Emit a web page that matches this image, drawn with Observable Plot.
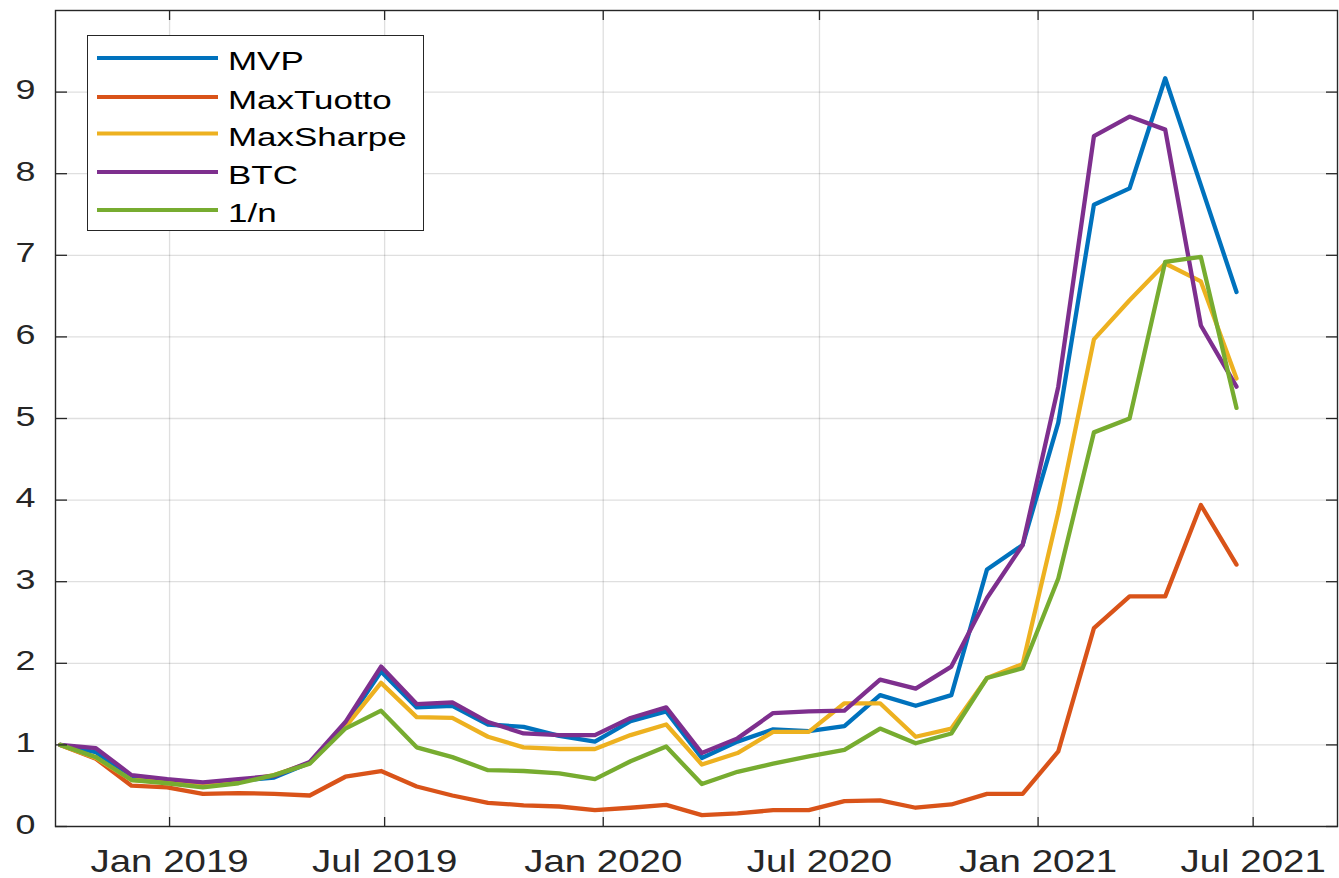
<!DOCTYPE html>
<html>
<head>
<meta charset="utf-8">
<script src="https://cdn.jsdelivr.net/npm/d3@7"></script>
<script src="https://cdn.jsdelivr.net/npm/@observablehq/plot@0.6"></script>
<style>
  body { margin: 0; background: #fff; }
  #wrap { position: relative; width: 1339px; height: 878px; overflow: hidden; background: #fff; }
  #legend { position: absolute; left: 87px; top: 35px; width: 337px; height: 196px; box-sizing: border-box;
            border: 1.4px solid #262626; background: #fff; }
</style>
</head>
<body>
<div id="wrap"><div id="legend"></div></div>
<script>
// ---- data ----
const dates = [
  "2018-10-01","2018-10-31","2018-11-30","2018-12-30","2019-01-29","2019-02-28","2019-03-30","2019-04-29",
  "2019-05-29","2019-06-28","2019-07-28","2019-08-27","2019-09-26","2019-10-26","2019-11-25","2019-12-25",
  "2020-01-24","2020-02-23","2020-03-24","2020-04-23","2020-05-23","2020-06-22","2020-07-22","2020-08-21",
  "2020-09-20","2020-10-20","2020-11-19","2020-12-19","2021-01-18","2021-02-17","2021-03-19","2021-04-18",
  "2021-05-18","2021-06-17"
];
const seriesNames = ["MVP", "MaxTuotto", "MaxSharpe", "BTC", "1/n"];
const seriesColors = ["#0072BD", "#D95319", "#EDB120", "#7E2F8E", "#77AC30"];

const mvp = [1.00,0.91,0.61,0.57,0.53,0.56,0.60,0.78,1.25,1.90,1.46,1.48,1.25,1.22,1.11,1.04,
             1.29,1.41,0.84,1.04,1.19,1.17,1.23,1.61,1.48,1.61,3.15,3.45,4.95,7.62,7.82,9.17,7.86,6.55];
const maxTuotto = [1.00,0.83,0.50,0.48,0.40,0.41,0.40,0.38,0.61,0.68,0.49,0.38,0.29,0.26,0.245,0.20,
             0.23,0.265,0.14,0.16,0.20,0.20,0.31,0.32,0.23,0.27,0.40,0.40,0.92,2.43,2.82,2.82,3.94,3.21];
const maxSharpe = [1.00,0.84,0.57,0.55,0.52,0.55,0.63,0.78,1.22,1.76,1.34,1.33,1.10,0.97,0.95,0.95,
             1.12,1.25,0.76,0.90,1.16,1.16,1.51,1.51,1.10,1.20,1.82,1.99,3.85,5.97,6.45,6.90,6.68,5.49];
const btc = [1.00,0.96,0.63,0.58,0.54,0.58,0.62,0.79,1.28,1.96,1.50,1.52,1.28,1.14,1.12,1.12,
             1.33,1.46,0.90,1.08,1.39,1.41,1.42,1.80,1.69,1.96,2.80,3.45,5.39,8.46,8.70,8.54,6.14,5.39];
const oneOverN = [1.00,0.85,0.57,0.53,0.48,0.53,0.63,0.77,1.20,1.42,0.97,0.85,0.69,0.68,0.65,0.58,
             0.80,0.98,0.52,0.67,0.77,0.86,0.94,1.20,1.02,1.14,1.82,1.94,3.04,4.83,5.00,6.92,6.98,5.13];

const yTicks = [0, 1, 2, 3, 4, 5, 6, 7, 8, 9];
const xTickDates = ["2019-01-01", "2019-07-01", "2020-01-01", "2020-07-01", "2021-01-01", "2021-07-01"];
const xTickLabels = ["Jan 2019", "Jul 2019", "Jan 2020", "Jul 2020", "Jan 2021", "Jul 2021"];
const xDomain = ["2018-09-27", "2021-09-10"];

// ---- build ----
const parse = d3.utcParse("%Y-%m-%d");
const allSeries = [mvp, maxTuotto, maxSharpe, btc, oneOverN];
const rows = [];
allSeries.forEach((vals, s) => vals.forEach((v, i) => rows.push({date: parse(dates[i]), value: v, series: seriesNames[s]})));
const xt = xTickDates.map(parse);
const labelOf = new Map(xt.map((d, i) => [+d, xTickLabels[i]]));
const ink = "#262626";

const chart = Plot.plot({
  width: 1339, height: 878,
  marginLeft: 55, marginRight: 2, marginTop: 10, marginBottom: 52,
  style: {fontFamily: "'Liberation Sans', Arial, Helvetica, sans-serif", color: ink, background: "#fff"},
  x: {type: "utc", domain: xDomain.map(parse)},
  y: {domain: [0, 10]},
  color: {domain: seriesNames, range: seriesColors},
  marks: [
    Plot.gridX(xt, {stroke: ink, strokeOpacity: 0.15, strokeWidth: 1.3}),
    Plot.gridY(yTicks, {stroke: ink, strokeOpacity: 0.15, strokeWidth: 1.3}),
    Plot.line(rows, {x: "date", y: "value", z: "series", stroke: "series", strokeWidth: 4.3, strokeLinejoin: "round"}),
    Plot.frame({stroke: ink, strokeWidth: 1.4}),
    Plot.axisX(xt, {anchor: "bottom", tickSize: -9, tickPadding: 54, tickFormat: d => labelOf.get(+d), fontSize: 31, label: null, strokeWidth: 1.3}),
    Plot.axisX(xt, {anchor: "top", tickSize: -9, tickFormat: () => "", label: null, strokeWidth: 1.3}),
    Plot.axisY(yTicks, {anchor: "left", tickSize: -12, tickPadding: 32, fontSize: 27, tickFormat: d => String(d), label: null, strokeWidth: 1.3}),
    Plot.axisY(yTicks, {anchor: "right", tickSize: -12, tickFormat: () => "", label: null, strokeWidth: 1.3})
  ]
});

function stretch(sel, sx, shiftY) {
  chart.querySelectorAll(sel).forEach(t => {
    let tr = t.getAttribute("transform") || "";
    if (t.hasAttribute("x") || t.hasAttribute("y")) {
      const x = +t.getAttribute("x") || 0, y = +t.getAttribute("y") || 0;
      t.removeAttribute("x"); t.removeAttribute("y");
      tr += ` translate(${x},${y})`;
    }
    t.setAttribute("transform", tr + ` translate(0,${shiftY}) scale(${sx},1)`);
  });
}
stretch('g[aria-label="x-axis tick label"] text', 1.24, 0);
stretch('g[aria-label="y-axis tick label"] text', 1.33, 7);

const wrap = document.getElementById("wrap");
wrap.insertBefore(chart, wrap.firstChild);

// ---- legend (HTML overlay) ----
const lg = d3.select("#legend").append("svg").attr("width", 335).attr("height", 194)
  .style("display", "block");
const rowY = [22, 61, 97.5, 136, 174];
seriesNames.forEach((name, i) => {
  const g = lg.append("g").attr("transform", `translate(0,${rowY[i]})`);
  g.append("line").attr("x1", 9).attr("x2", 130).attr("y1", 0).attr("y2", 0)
    .attr("stroke", seriesColors[i]).attr("stroke-width", 4);
  g.append("text").attr("transform", "translate(140,3) scale(1.37,1)")
    .attr("dominant-baseline", "central")
    .attr("font-family", "'Liberation Sans', Arial, sans-serif").attr("font-size", 25.5)
    .attr("fill", "#000").text(name);
});
</script>
</body>
</html>
